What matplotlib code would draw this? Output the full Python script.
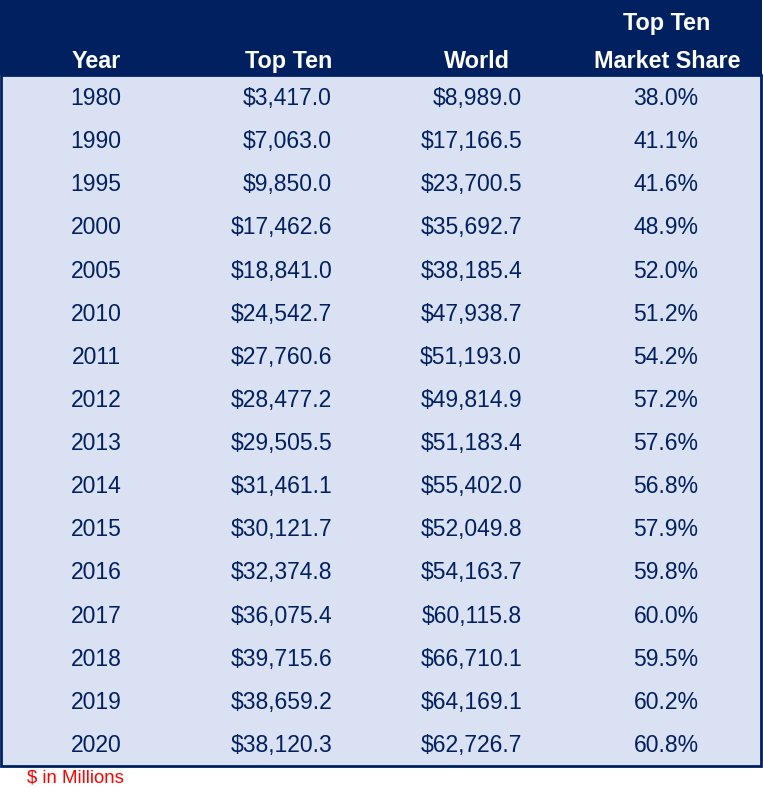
import matplotlib.pyplot as plt
from matplotlib.patches import Rectangle

plt.rcParams['font.family'] = ['Liberation Sans', 'DejaVu Sans']

years = [1980, 1990, 1995, 2000, 2005, 2010, 2011, 2012, 2013, 2014,
         2015, 2016, 2017, 2018, 2019, 2020]
top_ten = [3417.0, 7063.0, 9850.0, 17462.6, 18841.0, 24542.7, 27760.6, 28477.2,
           29505.5, 31461.1, 30121.7, 32374.8, 36075.4, 39715.6, 38659.2, 38120.3]
world = [8989.0, 17166.5, 23700.5, 35692.7, 38185.4, 47938.7, 51193.0, 49814.9,
         51183.4, 55402.0, 52049.8, 54163.7, 60115.8, 66710.1, 64169.1, 62726.7]
share = [38.0, 41.1, 41.6, 48.9, 52.0, 51.2, 54.2, 57.2, 57.6, 56.8,
         57.9, 59.8, 60.0, 59.5, 60.2, 60.8]
footnote = "$ in Millions"

NAVY = '#002060'
LIGHT = '#D9E1F2'
W, H = 763, 788

fig = plt.figure(figsize=(W / 100, H / 100), dpi=100)
ax = fig.add_axes([0, 0, 1, 1])
ax.set_xlim(0, W)
ax.set_ylim(H, 0)
ax.axis('off')

# header + body blocks
ax.add_patch(Rectangle((0, 0), 762, 75, color=NAVY, lw=0))
ax.add_patch(Rectangle((1, 75), 760, 691, facecolor=LIGHT, edgecolor=NAVY, lw=2))

fs = 16.5
hdr = dict(color='white', fontsize=16.8, fontweight='bold', va='center')
ax.text(96, 61, "Year", ha='center', **hdr)
ax.text(332, 61, "Top Ten", ha='right', **hdr)
ax.text(477, 61, "World", ha='center', **hdr)
ax.text(667, 23, "Top Ten", ha='center', **hdr)
ax.text(667, 61, "Market Share", ha='center', **hdr)

row_h = 43.13
y0 = 98.5
for i, yr in enumerate(years):
    y = y0 + i * row_h
    cell = dict(color=NAVY, fontsize=fs, va='center')
    ax.text(96, y, str(yr), ha='center', **cell)
    ax.text(332, y, f"${top_ten[i]:,.1f}", ha='right', **cell)
    ax.text(522, y, f"${world[i]:,.1f}", ha='right', **cell)
    ax.text(666, y, f"{share[i]:.1f}%", ha='center', **cell)

ax.text(27, 778, footnote, color='#FF0000', fontsize=13.4, ha='left', va='center')

fig.savefig('out.png', dpi=100)
